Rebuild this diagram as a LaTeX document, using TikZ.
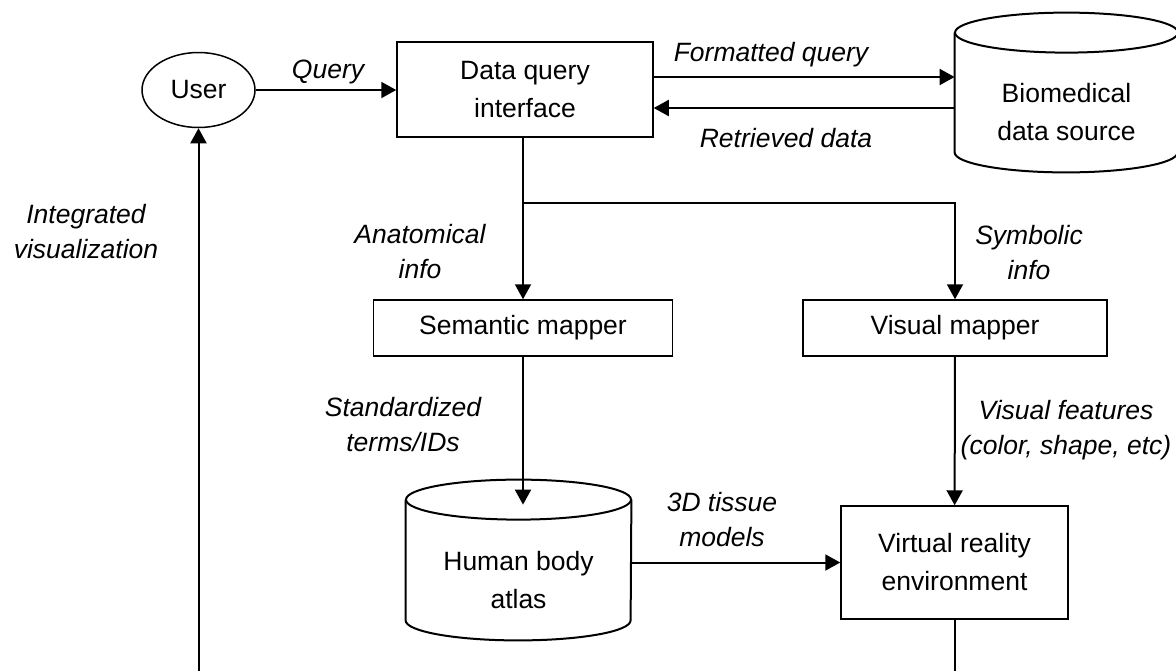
\documentclass[tikz,border=0pt]{standalone}
\usepackage{fontspec}
\setmainfont{Liberation Sans}
\usetikzlibrary{shapes.geometric,arrows.meta}

\begin{document}
\begin{tikzpicture}[x=0.5pt,y=-0.5pt,
  font=\fontsize{13.25}{19}\selectfont,
  box/.style={draw,line width=0.75pt,align=center,inner sep=0pt},
  dbbody/.style={align=center,inner sep=0pt},
  dbline/.style={line width=1pt},
  flow/.style={line width=1pt,-{Triangle[length=7.5pt,width=8pt]}},
  wire/.style={line width=1pt},
  lbl/.style={font=\fontsize{13.25}{17.5}\selectfont\itshape,align=center}]
\useasboundingbox (0,0) rectangle (1176,671);

% blocks
\node[box,ellipse,minimum width=56.5pt,minimum height=37.5pt] (user) at (198.5,90) {User};
\node[box,minimum width=128pt,minimum height=47.5pt] (dqi) at (525,89.5) {Data query\\interface};
\node[dbbody,minimum width=111.5pt,minimum height=59.5pt] (bio) at (1066.5,112.5) {Biomedical\\data source};
\node[box,minimum width=149.5pt,minimum height=28pt] (sem) at (523,328) {Semantic mapper};
\node[box,minimum width=152pt,minimum height=28pt] (vis) at (955,328) {Visual mapper};
\node[dbbody,minimum width=112.5pt,minimum height=60pt] (atlas) at (518.5,580) {Human body\\atlas};
\node[box,minimum width=113.5pt,minimum height=56.5pt] (vr) at (954.5,562.5) {Virtual reality\\environment};

% cylinders round the two stores
\draw[dbline] ([yshift=10pt]bio.north west) -- ([yshift=10pt]bio.south west)
  arc[start angle=180,end angle=360,x radius=55.75pt,y radius=10pt] -- ([yshift=10pt]bio.north east);
\draw[dbline] ([yshift=10pt]bio.north) ellipse[x radius=55.75pt,y radius=10pt];
\draw[dbline] ([yshift=10pt]atlas.north west) -- ([yshift=10pt]atlas.south west)
  arc[start angle=180,end angle=360,x radius=56.25pt,y radius=10pt] -- ([yshift=10pt]atlas.north east);
\draw[dbline] ([yshift=10pt]atlas.north) ellipse[x radius=56.25pt,y radius=10pt];

% connectors
\coordinate (split) at (523,203);
\coordinate (atlastop) at ([yshift=7.5pt]atlas.north);
\coordinate (vrend) at (954.5,671);
\coordinate (userend) at (198.5,671);
\draw[flow] (user) -- (user -| dqi.west);
\draw[flow] ([yshift=6.25pt]dqi.east) -- ([yshift=6.25pt]dqi.east -| bio.west);
\draw[flow] ([yshift=-9.25pt]dqi.east -| bio.west) -- ([yshift=-9.25pt]dqi.east);
\draw[wire] (split |- dqi.south) -- (split);
\draw[flow] (split) -- (sem);
\draw[flow] (split) -| (vis);
\draw[flow] (sem) -- (sem |- atlastop);
\draw[flow] (vis) -- (vr);
\draw[flow] (atlas.east |- vr.west) -- (vr.west);
\draw[wire] (vr) -- (vrend);
\draw[flow] (userend) -- (user);

% labels
\node[lbl] (lquery) at (328,72) {Query};
\node[lbl] (lfmt) at (771,55) {Formatted query};
\node[lbl] (lret) at (786,138) {Retrieved data};
\node[lbl] (lanat) at (420,252) {Anatomical\\info};
\node[lbl] (lsym) at (1029,253) {Symbolic\\info};
\node[lbl] (lstd) at (403,425) {Standardized\\terms/IDs};
\node[lbl] (lvf) at (1066,430) {Visual features\\(color, shape, etc)};
\node[lbl] (l3d) at (722,520) {3D tissue\\models};
\node[lbl] (lint) at (86,232) {Integrated\\visualization};
\end{tikzpicture}
\end{document}
